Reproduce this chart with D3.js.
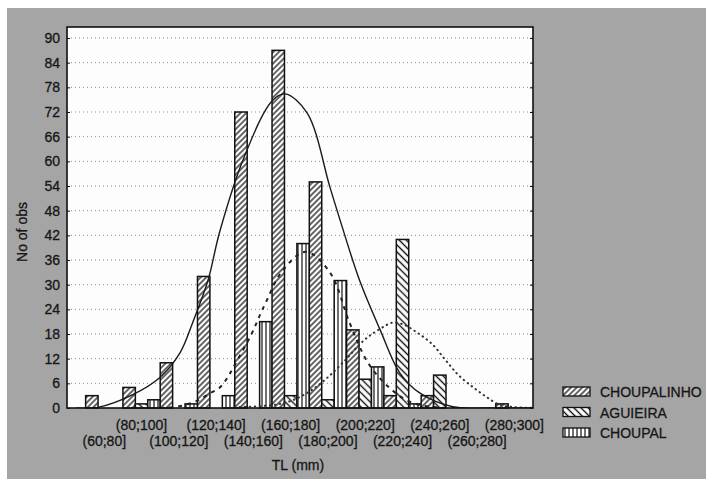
<!DOCTYPE html>
<html>
<head>
<meta charset="utf-8">
<script src="https://cdn.jsdelivr.net/npm/d3@7"></script>
<style>
  body { margin: 0; background: #fff; }
  svg { display: block; font-family: Arial, "Liberation Sans", sans-serif; }
  svg text { stroke: #161616; stroke-width: 0.3px; }
  .tick text { font-size: 14px; fill: #161616; }
</style>
</head>
<body>
<script>
// Bins of total length (mm)
const binLabels = ["(60;80]", "(80;100]", "(100;120]", "(120;140]", "(140;160]", "(160;180]",
                   "(180;200]", "(200;220]", "(220;240]", "(240;260]", "(260;280]", "(280;300]"];
const binStart = [60, 80, 100, 120, 140, 160, 180, 200, 220, 240, 260, 280];
const binWidth = 20;

// Counts per bin
const seriesNames = ["CHOUPALINHO", "AGUIEIRA", "CHOUPAL"];
const choupalinho = [3, 5, 11, 32, 72, 87, 55, 19, 3, 3, 0, 1];
const aguieira    = [0, 1, 0, 0, 0, 3, 2, 7, 41, 8, 0, 0];
const choupal     = [0, 2, 1, 3, 21, 40, 31, 10, 1, 0, 0, 0];

// Fitted curves, points [TL, count]
const fitChoupalinho = [[55, 0], [66, 0.1], [85, 3.2], [100, 7.5], [110.6, 13.4], [117.6, 21], [125.6, 31],
  [132, 43], [145, 61], [160, 74.7], [167, 76.4], [178.8, 71.8], [191, 53.8], [196.5, 45.7], [207, 31],
  [218, 19], [228.6, 8.5], [239.4, 3.6], [257, 0.3], [275, 0], [300, 0]];
const fitChoupal = [[100, 0], [110, 0.4], [120, 1.8], [126.7, 3.6], [132, 5], [136, 7.3], [139, 9.7],
  [149, 18], [153.5, 22.6], [157, 26], [165, 33], [178, 38], [191, 33], [201.8, 20.5], [211.5, 11],
  [223, 4.9], [235, 1.3], [250, 0.1], [265, 0]];
const fitAguieira = [[140, 0.2], [160, 0.7], [170, 1.7], [180, 4], [190, 7.5], [200, 12], [207, 15.5],
  [213, 17.8], [220, 19.8], [224, 20.7], [230, 20.4], [238, 18.3], [246, 15.5], [253, 11.7], [260, 8],
  [268, 5], [275, 2.7], [282, 0.8], [290, 0.2], [300, 0.05]];

const yTicks = [0, 6, 12, 18, 24, 30, 36, 42, 48, 54, 60, 66, 72, 78, 84, 90];

const W = 706, H = 479;
const plot = { left: 67, right: 533, top: 27, bottom: 408 };

const svg = d3.select('body').append('svg').attr('width', W).attr('height', H);

// scanned page background
svg.append('rect').attr('width', W).attr('height', H).attr('fill', '#fff');
svg.append('rect').attr('x', 7).attr('y', 8).attr('width', W - 7).attr('height', H - 8).attr('fill', '#a5a5a5');

// patterns
const defs = svg.append('defs');
function hatch(id, size, angle, sw) {
  const p = defs.append('pattern').attr('id', id)
    .attr('patternUnits', 'userSpaceOnUse')
    .attr('width', size).attr('height', size)
    .attr('patternTransform', `rotate(${angle})`);
  p.append('rect').attr('width', size).attr('height', size).attr('fill', '#fff');
  p.append('line').attr('x1', size / 2).attr('y1', 0).attr('x2', size / 2).attr('y2', size)
    .attr('stroke', '#111').attr('stroke-width', sw);
}
hatch('pat-choupalinho', 4, 45, 1.3);
hatch('pat-aguieira', 5, -45, 1.4);
hatch('pat-choupal', 4, 0, 1.2);
const fills = { CHOUPALINHO: 'url(#pat-choupalinho)', AGUIEIRA: 'url(#pat-aguieira)', CHOUPAL: 'url(#pat-choupal)' };

// scales
const x = d3.scaleLinear().domain([50, 300]).range([plot.left, plot.right]);
const y = d3.scaleLinear().domain([0, 92.68]).range([plot.bottom, plot.top]);
const sub = d3.scaleBand().domain(seriesNames).range([0, x(binWidth) - x(0)]).padding(0);

// plot area
svg.append('rect')
  .attr('x', plot.left).attr('y', plot.top)
  .attr('width', plot.right - plot.left).attr('height', plot.bottom - plot.top)
  .attr('fill', '#fdfdfd');

// gridlines
svg.append('g').selectAll('line').data(yTicks.filter(d => d > 0)).join('line')
  .attr('x1', plot.left).attr('x2', plot.right)
  .attr('y1', d => y(d)).attr('y2', d => y(d))
  .attr('stroke', '#8a8a8a').attr('stroke-width', 1).attr('stroke-dasharray', '1,3');

// bars
const rows = [];
binStart.forEach((b, i) => {
  rows.push({ bin: b, s: 'CHOUPALINHO', v: choupalinho[i] });
  rows.push({ bin: b, s: 'AGUIEIRA', v: aguieira[i] });
  rows.push({ bin: b, s: 'CHOUPAL', v: choupal[i] });
});
svg.append('g').selectAll('rect').data(rows.filter(d => d.v > 0)).join('rect')
  .attr('x', d => x(d.bin) + sub(d.s))
  .attr('y', d => y(d.v))
  .attr('width', sub.bandwidth())
  .attr('height', d => y(0) - y(d.v))
  .attr('fill', d => fills[d.s])
  .attr('stroke', '#111').attr('stroke-width', 1.5);

// fitted curves
svg.append('clipPath').attr('id', 'clip').append('rect')
  .attr('x', plot.left).attr('y', plot.top)
  .attr('width', plot.right - plot.left).attr('height', plot.bottom - plot.top);
const line = d3.line().x(d => x(d[0])).y(d => y(d[1])).curve(d3.curveCatmullRom.alpha(0.5));
const curves = svg.append('g').attr('clip-path', 'url(#clip)');
curves.append('path').attr('d', line(fitChoupalinho))
  .attr('fill', 'none').attr('stroke', '#1a1a1a').attr('stroke-width', 1.4);
curves.append('path').attr('d', line(fitChoupal))
  .attr('fill', 'none').attr('stroke', '#222').attr('stroke-width', 2).attr('stroke-dasharray', '4,5');
curves.append('path').attr('d', line(fitAguieira))
  .attr('fill', 'none').attr('stroke', '#333').attr('stroke-width', 2)
  .attr('stroke-dasharray', '0.5,4.5').attr('stroke-linecap', 'round');

// frame
svg.append('rect')
  .attr('x', plot.left).attr('y', plot.top)
  .attr('width', plot.right - plot.left).attr('height', plot.bottom - plot.top)
  .attr('fill', 'none').attr('stroke', '#111').attr('stroke-width', 1.6);

// y axis
const yAxis = svg.append('g').attr('transform', `translate(${plot.left},0)`)
  .call(d3.axisLeft(y).tickValues(yTicks).tickSize(-3).tickPadding(7));
yAxis.select('.domain').remove();
yAxis.selectAll('.tick line').attr('stroke', '#111');
const yAxisR = svg.append('g').attr('transform', `translate(${plot.right},0)`)
  .call(d3.axisRight(y).tickValues(yTicks).tickSize(-3).tickFormat(''));
yAxisR.select('.domain').remove();
yAxisR.selectAll('.tick line').attr('stroke', '#111');

// x labels in two staggered rows
svg.append('g').selectAll('text').data(binLabels).join('text')
  .attr('x', (d, i) => x(binStart[i] + binWidth / 2))
  .attr('y', (d, i) => i % 2 === 1 ? 430 : 446)
  .attr('text-anchor', 'middle')
  .attr('font-size', 14).attr('fill', '#161616')
  .text(d => d);

// axis titles
svg.append('text')
  .attr('transform', 'translate(27,232) rotate(-90)')
  .attr('text-anchor', 'middle').attr('font-size', 14).attr('fill', '#161616')
  .text('No of obs');
svg.append('text')
  .attr('x', 298).attr('y', 470)
  .attr('text-anchor', 'middle').attr('font-size', 14).attr('fill', '#161616')
  .text('TL (mm)');

// legend
const legend = svg.append('g').selectAll('g').data(seriesNames).join('g')
  .attr('transform', (d, i) => `translate(563,${387 + i * 20.5})`);
legend.append('rect').attr('width', 27).attr('height', 9)
  .attr('fill', d => fills[d]).attr('stroke', '#111').attr('stroke-width', 1.3);
legend.append('text').attr('x', 37).attr('y', 10)
  .attr('font-size', 14).attr('fill', '#161616')
  .text(d => d);
</script>
</body>
</html>
